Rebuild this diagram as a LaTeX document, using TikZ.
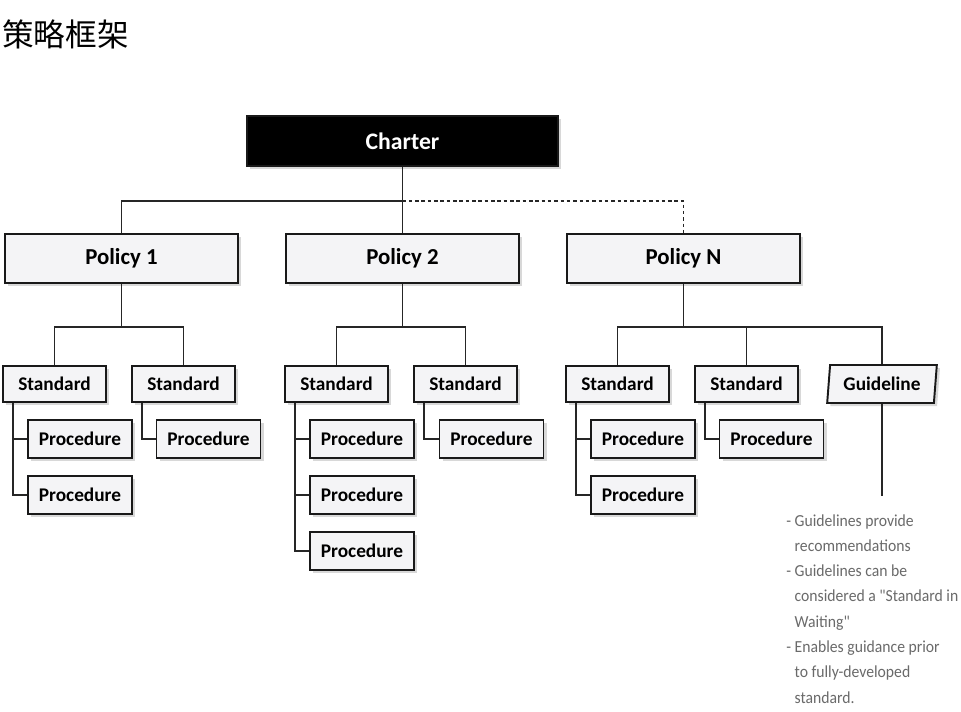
\documentclass[tikz,border=0pt]{standalone}
\usepackage{fontspec}
\setmainfont{Carlito}
\newfontfamily\cjkfont{Noto Sans CJK SC}
\newfontfamily\notefont[FakeStretch=0.93]{Carlito}
\usetikzlibrary{positioning,calc,shadows,shapes.geometric}
\definecolor{pfgray}{HTML}{F4F4F6}
\definecolor{pfnote}{HTML}{6A6A6A}

\begin{document}
\begin{tikzpicture}[
  x=0.02cm, y=-0.02cm,
  conn/.style={draw=black!85, line width=1.1pt},
  box/.style={draw=black!90, line width=1.1pt, fill=pfgray, inner sep=0pt,
              font=\bfseries\fontsize{11}{13}\selectfont,
              drop shadow={shadow xshift=1.8pt, shadow yshift=-1.8pt, opacity=.3}},
  charterbox/.style={box, fill=black, text=white, minimum width=6.22cm, minimum height=1.0cm,
              font=\bfseries\fontsize{13.5}{15}\selectfont},
  policybox/.style={box, minimum width=4.66cm, minimum height=0.98cm,
              font=\bfseries\fontsize{13}{15}\selectfont},
  stdbox/.style={box, minimum width=2.06cm, minimum height=0.72cm},
  procbox/.style={box, minimum width=2.08cm, minimum height=0.76cm},
  guidebox/.style={box, trapezium, trapezium left angle=81, trapezium right angle=99,
              trapezium stretches=true, minimum width=2.2cm, minimum height=0.76cm},
  note/.style={font=\notefont\fontsize{9.6}{14.4}\selectfont, text=pfnote, align=left, inner sep=0pt},
]
\useasboundingbox[fill=white] (0,0) rectangle (961,711);

% ===== title =====
\node[font=\cjkfont\fontsize{18}{20}\selectfont, anchor=west, inner sep=0pt] (title) at (2,34) {策略框架};

% ===== charter and policies =====
\node[charterbox] (ch) at (402.5,141) {Charter};
\node[policybox] (p1) at (121.5,258.5) {Policy 1};
\node[policybox] (p2) at (402.5,258.5) {Policy 2};
\node[policybox] (pn) at (683.5,258.5) {Policy N};

\draw[conn] (ch.south) -- ++(0,34) -| (p1.north);
\draw[conn] (ch.south) -- (p2.north);
\draw[conn, dash pattern=on 2pt off 1.6pt] ($(ch.south)+(0,34)$) -| (pn.north);

% ===== standards =====
\node[stdbox] (s11) at (54.5,384) {Standard};
\node[stdbox] (s12) at (183.5,384) {Standard};
\node[stdbox] (s21) at (336.5,384) {Standard};
\node[stdbox] (s22) at (465.5,384) {Standard};
\node[stdbox] (s31) at (617.5,384) {Standard};
\node[stdbox] (s32) at (746.5,384) {Standard};
\node[guidebox] (gd) at (882,384) {Guideline};

\foreach \p/\s in {p1/s11, p1/s12, p2/s21, p2/s22, pn/s31, pn/s32, pn/gd}
  \draw[conn] (\p.south) -- ++(0,43) -| (\s.north);

% ===== procedures =====
\node[procbox] (r11a) at (80,439) {Procedure};
\node[procbox,below=0.32cm of r11a] (r11b) {Procedure};
\node[procbox] (r12a) at (208.5,439) {Procedure};
\node[procbox] (r21a) at (362,439) {Procedure};
\node[procbox,below=0.32cm of r21a] (r21b) {Procedure};
\node[procbox,below=0.32cm of r21b] (r21c) {Procedure};
\node[procbox] (r22a) at (491.5,439) {Procedure};
\node[procbox] (r31a) at (643,439) {Procedure};
\node[procbox,below=0.32cm of r31a] (r31b) {Procedure};
\node[procbox] (r32a) at (771.5,439) {Procedure};

\foreach \s/\r in {s11/r11a, s11/r11b, s12/r12a, s21/r21a, s21/r21b, s21/r21c,
                   s22/r22a, s31/r31a, s31/r31b, s32/r32a}
  \draw[conn] ($(\s.south west)+(11,0)$) |- (\r.west);

% ===== guideline notes =====
\coordinate (gend) at (885,496);
\draw[conn] (gd.south) -- (gd.south |- gend);
\node[note, anchor=north west] (gnote) at (786,514)
  {- Guidelines provide\\
   \phantom{-\ }recommendations\\
   - Guidelines can be\\
   \phantom{-\ }considered a "Standard in\\
   \phantom{-\ }Waiting"\\
   - Enables guidance prior\\
   \phantom{-\ }to fully-developed\\
   \phantom{-\ }standard.};

\end{tikzpicture}
\end{document}
